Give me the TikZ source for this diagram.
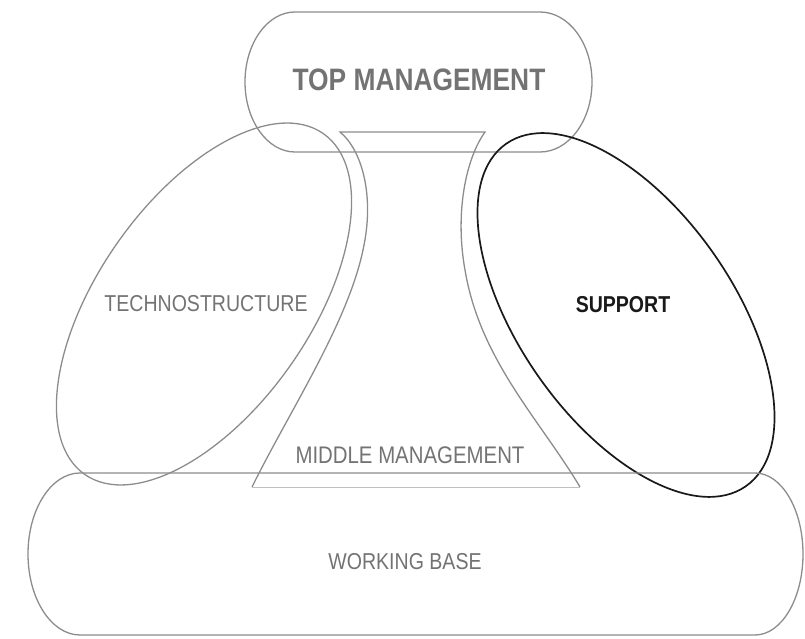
\documentclass[tikz,border=0pt]{standalone}
\usepackage{fontspec}
\setmainfont{Liberation Sans}
\newfontfamily\narrowsf[FakeStretch=0.85]{Liberation Sans}
\usetikzlibrary{shapes.geometric}

\begin{document}
\begin{tikzpicture}[
  x=1pt,y=1pt,
  part/.style={draw=black!45,line width=1.3pt},
  strong/.style={draw=black!90,line width=1.7pt},
  faint/.style={draw=black!25,line width=0.9pt},
  oval/.style={ellipse,part,minimum width=416pt,minimum height=212pt,
               inner sep=0pt},
  lbl/.style={font=\narrowsf\fontsize{23}{23}\selectfont,text=black!55,
              inner sep=0pt},
]
\useasboundingbox (0,0) rectangle (805,639);

% ---- top management: flat oval at the apex ----
\draw[part] (295,627) -- (540,627)
      arc[start angle=90,end angle=-90,x radius=52,y radius=70]
      -- (295,487)
      arc[start angle=270,end angle=90,x radius=50,y radius=70] -- cycle;
\node[lbl,font=\narrowsf\bfseries\fontsize{31}{31}\selectfont]
     (top) at (419,559) {TOP MANAGEMENT};

% ---- middle line: waisted trunk between the two wings ----
\draw[part] (252,152)
      .. controls (290,229) and (350,319) .. (364,394)
      .. controls (374,444) and (362,489) .. (340,507)
      -- (485,507)
      .. controls (465,479) and (455,424) .. (465,369)
      .. controls (480,279) and (540,219) .. (580,152);
\draw[faint] (252,152) -- (580,152);
\node[lbl,font=\narrowsf\fontsize{24}{24}\selectfont]
     (middle) at (410,184) {MIDDLE MANAGEMENT};

% ---- the two staff wings ----
\node[oval,rotate=55] (technoshape) at (204,335) {};
\node[lbl] (techno) at (206,335) {TECHNOSTRUCTURE};

\node[oval,strong,minimum width=418pt,minimum height=214pt,rotate=-55]
     (supportshape) at (626,324) {};
\node[lbl,font=\narrowsf\bfseries\fontsize{23}{23}\selectfont,text=black!90]
     (support) at (623,334) {SUPPORT};

% ---- operating core along the bottom ----
\draw[part] (80,166) -- (755,166)
      arc[start angle=90,end angle=-90,x radius=48,y radius=81]
      -- (80,4)
      arc[start angle=270,end angle=90,x radius=52,y radius=81] -- cycle;
\node[lbl] (base) at (405,77) {WORKING BASE};

\end{tikzpicture}
\end{document}
